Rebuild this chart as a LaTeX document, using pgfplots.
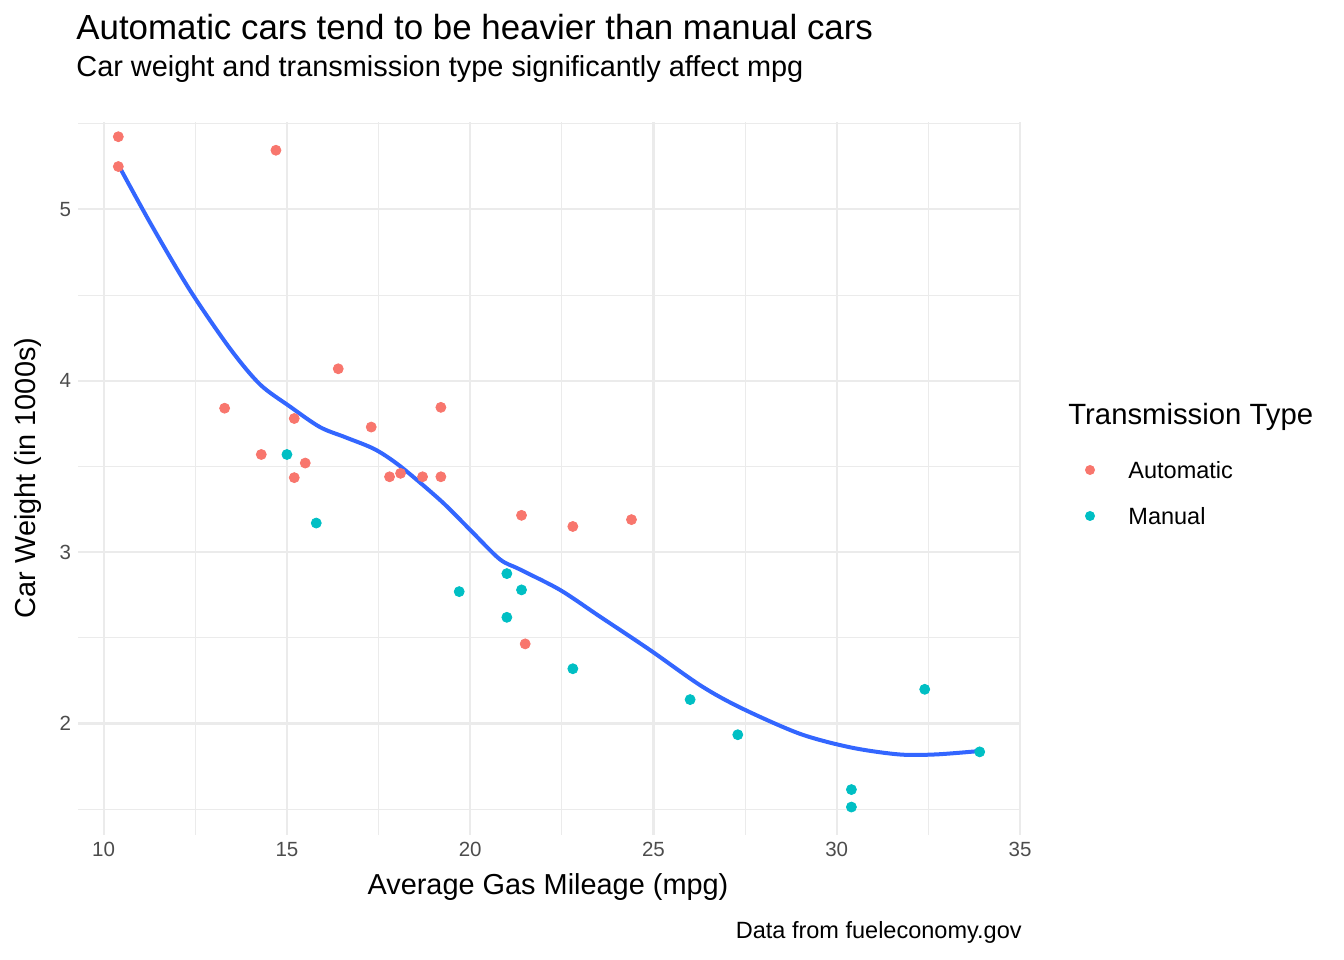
\documentclass[border=0pt]{standalone}
\usepackage{pgfplots}
\pgfplotsset{compat=1.18}
\usepackage{fontspec}
\setmainfont{Liberation Sans}
\definecolor{autoc}{HTML}{F8766D}
\definecolor{manc}{HTML}{00BFC4}
\definecolor{fitc}{HTML}{3366FF}
\definecolor{grd}{HTML}{EBEBEB}
\begin{document}
\begin{tikzpicture}[x=1bp,y=1bp]
\path (-39,-62.5) rectangle (633,417.5);
\begin{axis}[at={(0,0)},anchor=south west,scale only axis,width=471bp,height=356.5bp,
 xmin=9.3,xmax=35.0,ymin=1.35,ymax=5.51,
 axis line style={draw=none},tick style={draw=none},
 xtick={10,15,20,25,30,35},ytick={2,3,4,5},
 minor xtick={12.5,17.5,22.5,27.5,32.5},minor ytick={1.5,2.5,3.5,4.5,5.5},
 grid=both,major grid style={grd,line width=1.1bp},minor grid style={grd,line width=0.55bp},
 ticklabel style={font=\fontsize{10.3}{11}\selectfont,text=black!70},
 /pgf/number format/assume math mode=true,
 clip=false]
\addplot[only marks,mark=*,mark size=2.5bp,color=autoc] coordinates {
(21.4,3.215)(18.7,3.44)(18.1,3.46)(14.3,3.57)(24.4,3.19)(22.8,3.15)(19.2,3.44)(17.8,3.44)
(16.4,4.07)(17.3,3.73)(15.2,3.78)(10.4,5.25)(10.4,5.424)(14.7,5.345)(21.5,2.465)(15.5,3.52)
(15.2,3.435)(13.3,3.84)(19.2,3.845)};
\addplot[only marks,mark=*,mark size=2.5bp,color=manc] coordinates {
(21.0,2.62)(21.0,2.875)(22.8,2.32)(32.4,2.2)(30.4,1.615)(33.9,1.835)(27.3,1.935)(26.0,2.14)
(30.4,1.513)(15.8,3.17)(19.7,2.77)(15.0,3.57)(21.4,2.78)};
\addplot[smooth,color=fitc,line width=2bp] coordinates {
(10.4,5.26)(11.3,4.91)(12.35,4.53)(13.44,4.19)(14.26,3.98)(15.08,3.85)(15.9,3.73)(16.6,3.67)
(17.4,3.60)(18.1,3.50)(19.2,3.30)(20.0,3.13)(20.8,2.96)(21.35,2.90)(22.45,2.78)(23.5,2.63)
(24.9,2.43)(26.3,2.22)(27.4,2.09)(29.0,1.94)(30.4,1.86)(31.7,1.82)(32.7,1.82)(33.9,1.84)};
\end{axis}
\node[anchor=base west,inner sep=0pt,font=\fontsize{17.5}{19}\selectfont] at (-1,397.5) {Automatic cars tend to be heavier than manual cars};
\node[anchor=base west,inner sep=0pt,font=\fontsize{14.5}{16}\selectfont] at (-1,379) {Car weight and transmission type significantly affect mpg};
\node[anchor=base,font=\fontsize{14.5}{16}\selectfont] at (235,-30) {Average Gas Mileage (mpg)};
\node[anchor=base,rotate=90,font=\fontsize{14.5}{16}\selectfont] at (-21,178.5) {Car Weight (in 1000s)};
\node[anchor=base east,inner sep=0pt,font=\fontsize{11.8}{13}\selectfont] at (472,-52) {Data from fueleconomy.gov};
\node[anchor=base west,inner sep=0pt,font=\fontsize{14.7}{16}\selectfont] at (495,205) {Transmission Type};
\fill[autoc] (506,182.5) circle (2.5);
\fill[manc] (506,159.5) circle (2.5);
\node[anchor=west,inner sep=0pt,font=\fontsize{11.8}{13}\selectfont] at (525,182.5) {Automatic};
\node[anchor=west,inner sep=0pt,font=\fontsize{11.8}{13}\selectfont] at (525,159.5) {Manual};
\end{tikzpicture}
\end{document}
